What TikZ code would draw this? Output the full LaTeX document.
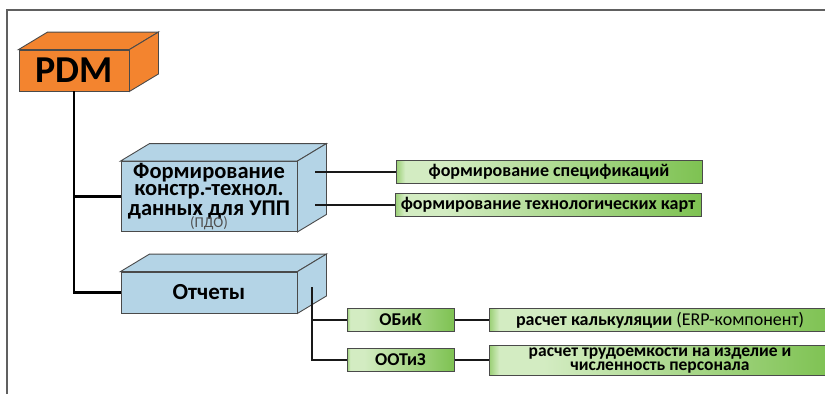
\documentclass[tikz,border=0pt]{standalone}
\usepackage{fontspec}
\setmainfont{Carlito}
\definecolor{pdmor}{HTML}{F3842F}
\definecolor{boxblue}{HTML}{B4D4E6}
\definecolor{edgegray}{HTML}{4A4A4A}
\definecolor{framegray}{HTML}{606060}
\definecolor{gA}{HTML}{98CE72}
\definecolor{gB}{HTML}{D3ECC2}
\definecolor{gC}{HTML}{7EC252}
\definecolor{pdogray}{HTML}{505050}
\pgfdeclarehorizontalshading{greenbar}{100bp}{color(0bp)=(gA); color(25bp)=(gA); color(26.5bp)=(gB); color(33bp)=(gB); color(75bp)=(gC); color(100bp)=(gC)}
\newcommand\cuboidfaces[2]{%
  \draw[face, fill=#2] (#1.north west) -- ([shift={(29,-17.5)}]#1.north west) -- ([shift={(29,-17.5)}]#1.north east) -- (#1.north east) -- cycle;
  \draw[face, fill=#2] (#1.north east) -- ([shift={(29,-17.5)}]#1.north east) -- ([shift={(29,-17.5)}]#1.south east) -- (#1.south east) -- cycle;
}
\begin{document}
\begin{tikzpicture}[x=1pt,y=-1pt,
  face/.style={draw=edgegray, line width=0.9pt, line join=miter},
  frontbox/.style={draw=edgegray, line width=0.9pt, rectangle, inner sep=0pt, align=center},
  gbar/.style={draw=edgegray, line width=1pt, rectangle, shading=greenbar, inner sep=0pt, align=center, minimum height=22.5pt, font=\bfseries\fontsize{18}{14}\selectfont},
  tree/.style={line width=2.6pt, black},
  conn/.style={line width=1.3pt, black!90},
  frameline/.style={line width=1.2pt, framegray}]
\useasboundingbox (0,0) rectangle (825,394);
\draw[frameline] (7,394) -- (7,10) -- (826,10);

% PDM
\node[frontbox, fill=pdmor, minimum width=110pt, minimum height=41pt, font=\bfseries\fontsize{38}{38}\selectfont] (pdm) at (74,70.5) {PDM};
\cuboidfaces{pdm}{pdmor}

% Box 2
\node[frontbox, fill=boxblue, minimum width=176pt, minimum height=70pt, font=\bfseries\fontsize{22.5}{17.2}\selectfont] (form) at (209,196.5)
  {Формирование\\констр.-технол.\\данных для УПП\\[-5pt]{\mdseries\fontsize{15}{15}\selectfont\color{pdogray}(ПДО)}};
\cuboidfaces{form}{boxblue}

% Box 3
\node[frontbox, fill=boxblue, minimum width=176pt, minimum height=41pt, font=\bfseries\fontsize{23}{17}\selectfont] (otch) at (209,292.5) {Отчеты};
\cuboidfaces{otch}{boxblue}

% green bars
\node[gbar, minimum width=306pt] (spec) at (549,172) {формирование спецификаций};
\node[gbar, minimum width=306pt] (tech) at (548,205) {формирование технологических карт};
\node[gbar, minimum width=107pt] (obik) at (400.5,320) {ОБиК};
\node[gbar, minimum width=107pt] (ootiz) at (400.5,360) {ООТиЗ};
\node[gbar, minimum width=342pt] (calc) at (660,320) {расчет калькуляции {\mdseries(ERP-компонент)}};
\node[gbar, minimum width=342pt, minimum height=30pt, font=\bfseries\fontsize{17.5}{14.2}\selectfont] (pers) at (660,360.7) {расчет трудоемкости на изделие и\\численность персонала};

% connectors
\draw[tree] (pdm.south) |- (form.west);
\draw[tree] (pdm.south) |- (otch.west);
\coordinate (fa) at (315,172);
\coordinate (fb) at (315,205);
\draw[conn] (fa) -- (spec.west);
\draw[conn] (fb) -- (tech.west);
\coordinate (oa) at (312,287);
\draw[conn] (oa) |- (obik.west);
\draw[conn] (oa) |- (ootiz.west);
\draw[conn] (obik.east) -- (calc.west);
\draw[conn] (ootiz.east) -- (calc.west |- ootiz.east);
\end{tikzpicture}
\end{document}
